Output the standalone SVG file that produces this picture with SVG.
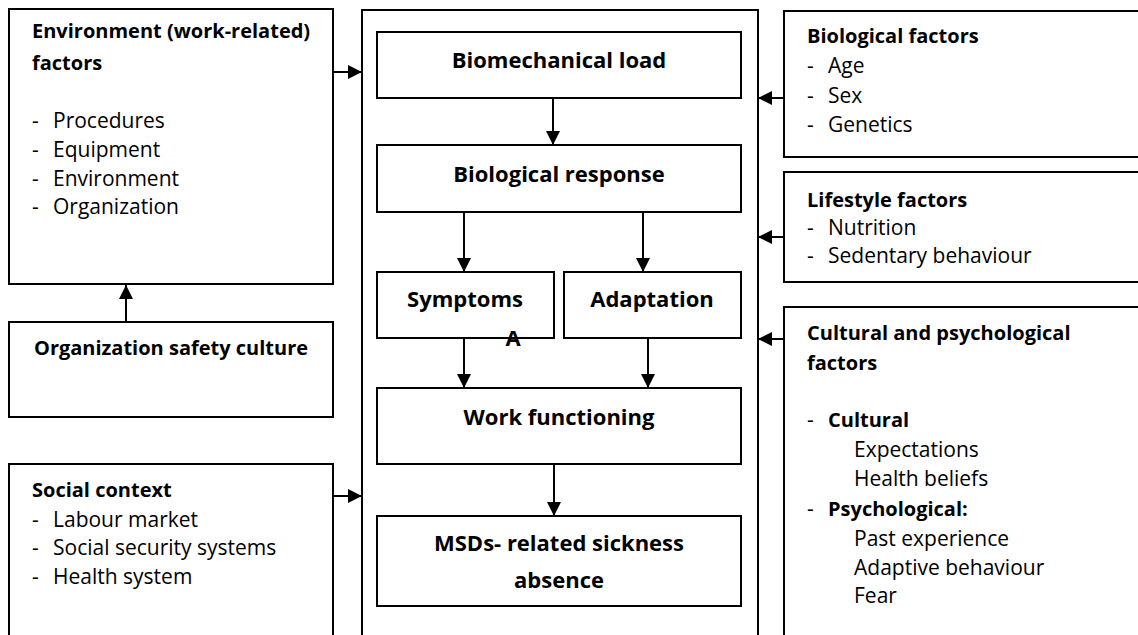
<svg xmlns="http://www.w3.org/2000/svg" width="1138" height="635" viewBox="0 0 1138 635">
<style>
.box{fill:#fff;stroke:#000;stroke-width:2}
text{font-family:"Open Sans","Liberation Sans",sans-serif;font-size:21px;fill:#000}
.b{font-weight:bold;font-size:20px}
.m{font-weight:bold;font-size:22px;text-anchor:middle}
.ln{stroke:#000;stroke-width:2;fill:none}
</style>
<defs>
<marker id="ah" viewBox="0 0 14 14" refX="14" refY="7" markerWidth="14" markerHeight="14" markerUnits="userSpaceOnUse" orient="auto"><path d="M0,0 L14,7 L0,14 z" fill="#000"/></marker>
</defs>
<g id="env"><rect class="box" x="9" y="9" width="324" height="275"/>
<text class="b" x="32" y="38">Environment (work-related)</text>
<text class="b" x="32" y="70">factors</text>
<text x="32" y="128">-</text><text x="53" y="128">Procedures</text>
<text x="32" y="157">-</text><text x="53" y="157">Equipment</text>
<text x="32" y="186">-</text><text x="53" y="186">Environment</text>
<text x="32" y="214">-</text><text x="53" y="214">Organization</text></g>
<g id="org"><rect class="box" x="9" y="322" width="324" height="95"/>
<text class="b" x="171" y="355" text-anchor="middle">Organization safety culture</text></g>
<g id="social"><rect class="box" x="9" y="464" width="324" height="190"/>
<text class="b" x="32" y="497">Social context</text>
<text x="32" y="527">-</text><text x="53" y="527">Labour market</text>
<text x="32" y="555">-</text><text x="53" y="555">Social security systems</text>
<text x="32" y="584">-</text><text x="53" y="584">Health system</text></g>
<g id="center"><rect class="box" x="362" y="10" width="396" height="640"/></g>
<g id="biomech"><rect class="box" x="377" y="32" width="364" height="66"/>
<text class="m" x="559" y="68">Biomechanical load</text></g>
<g id="bioresp"><rect class="box" x="377" y="145" width="364" height="67"/>
<text class="m" x="559" y="182">Biological response</text></g>
<g id="symptoms"><rect class="box" x="377" y="272" width="177" height="66"/>
<text class="m" x="465" y="307">Symptoms</text>
<text class="m" x="513" y="346">A</text></g>
<g id="adaptation"><rect class="box" x="564" y="272" width="177" height="66"/>
<text class="m" x="652" y="307">Adaptation</text></g>
<g id="work"><rect class="box" x="377" y="388" width="364" height="76"/>
<text class="m" x="559" y="425">Work functioning</text></g>
<g id="msd"><rect class="box" x="377" y="516" width="364" height="90"/>
<text class="m" x="559" y="551">MSDs- related sickness</text>
<text class="m" x="559" y="588">absence</text></g>
<g id="bio"><rect class="box" x="784" y="11" width="370" height="146"/>
<text class="b" x="807" y="43">Biological factors</text>
<text x="807" y="73">-</text><text x="828" y="73">Age</text>
<text x="807" y="103">-</text><text x="828" y="103">Sex</text>
<text x="807" y="132">-</text><text x="828" y="132">Genetics</text></g>
<g id="life"><rect class="box" x="784" y="172" width="370" height="110"/>
<text class="b" x="807" y="207">Lifestyle factors</text>
<text x="807" y="235">-</text><text x="828" y="235">Nutrition</text>
<text x="807" y="263">-</text><text x="828" y="263">Sedentary behaviour</text></g>
<g id="cult"><rect class="box" x="784" y="307" width="370" height="350"/>
<text class="b" x="807" y="340">Cultural and psychological</text>
<text class="b" x="807" y="370">factors</text>
<text x="807" y="427">-</text><text class="b" x="828" y="427">Cultural</text>
<text x="854" y="457">Expectations</text>
<text x="854" y="486">Health beliefs</text>
<text x="807" y="516">-</text><text class="b" x="828" y="516">Psychological:</text>
<text x="854" y="546">Past experience</text>
<text x="854" y="575">Adaptive behaviour</text>
<text x="854" y="603">Fear</text></g>
<g id="connectors">
<line class="ln" x1="333" y1="72" x2="362" y2="72" marker-end="url(#ah)"/>
<line class="ln" x1="333" y1="496" x2="362" y2="496" marker-end="url(#ah)"/>
<line class="ln" x1="126" y1="322" x2="126" y2="285" marker-end="url(#ah)"/>
<line class="ln" x1="784" y1="98" x2="758" y2="98" marker-end="url(#ah)"/>
<line class="ln" x1="784" y1="237" x2="758" y2="237" marker-end="url(#ah)"/>
<line class="ln" x1="784" y1="339" x2="758" y2="339" marker-end="url(#ah)"/>
<line class="ln" x1="553" y1="98" x2="553" y2="145" marker-end="url(#ah)"/>
<line class="ln" x1="464" y1="212" x2="464" y2="272" marker-end="url(#ah)"/>
<line class="ln" x1="643" y1="212" x2="643" y2="272" marker-end="url(#ah)"/>
<line class="ln" x1="464" y1="338" x2="464" y2="388" marker-end="url(#ah)"/>
<line class="ln" x1="648" y1="338" x2="648" y2="388" marker-end="url(#ah)"/>
<line class="ln" x1="554" y1="464" x2="554" y2="516" marker-end="url(#ah)"/>
</g>
</svg>
